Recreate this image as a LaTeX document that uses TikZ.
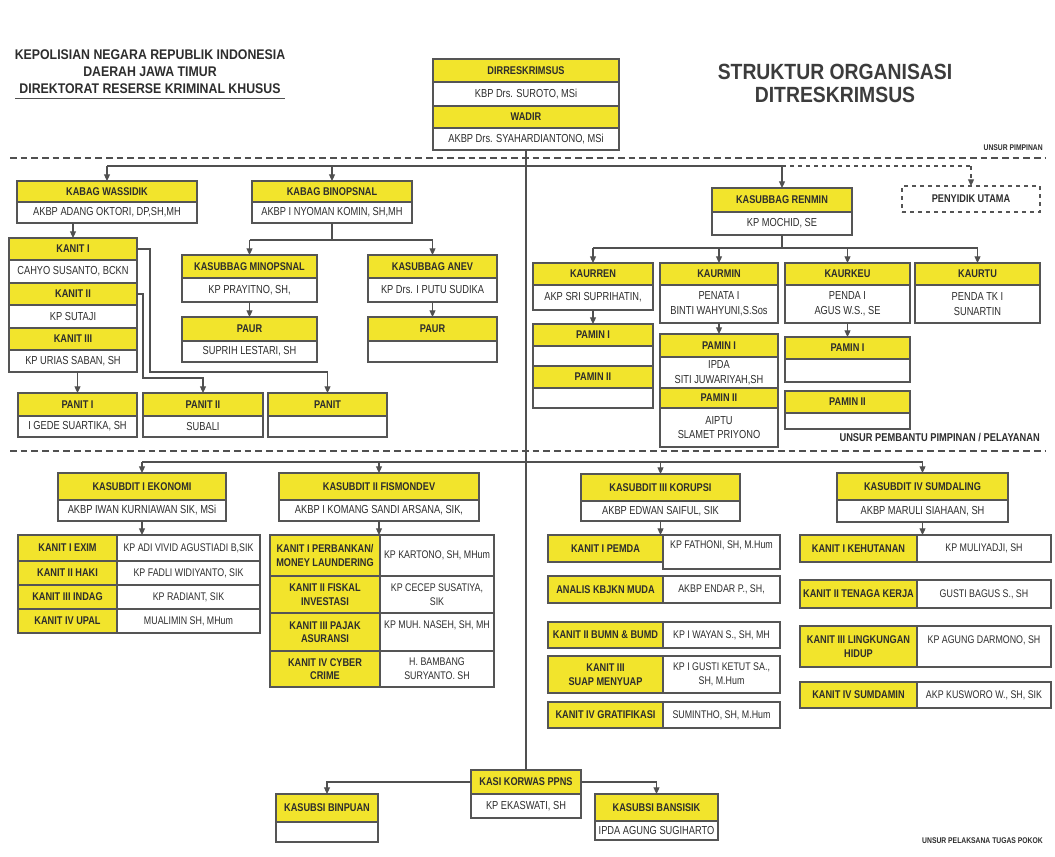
\documentclass[tikz,border=0pt]{standalone}
\usepackage{fontspec}
\usetikzlibrary{arrows.meta}
\newfontfamily\nar{Liberation Sans}[FakeStretch=0.82]
\newfontfamily\hdr{Liberation Sans}[FakeStretch=0.88]
\newfontfamily\nmf{Liberation Sans}[FakeStretch=0.8]
\definecolor{yel}{RGB}{242,228,44}
\definecolor{bord}{RGB}{85,85,85}
\definecolor{txt}{RGB}{45,45,45}
\definecolor{lnc}{RGB}{80,80,80}
\definecolor{ttl}{RGB}{60,60,60}
\newcommand\bx[7]{\node[#6, minimum width={((#4)-(#2))*0.75pt}, minimum height={((#5)-(#3))*0.75pt}] (#1) at ({((#2)+(#4))/2},{((#3)+(#5))/2}) {#7};}
\tikzset{
  cellbase/.style={draw=bord, line width=0.8pt, inner sep=0pt, outer sep=0pt, align=center, text=txt},
  yel/.style={cellbase, fill=yel, font=\nar\bfseries\fontsize{8.4}{10.2}\selectfont},
  wht/.style={cellbase, fill=white, font=\nmf\fontsize{8.7}{11}\selectfont},
  whtt/.style={cellbase, fill=white, font=\nmf\fontsize{8.3}{10.5}\selectfont},
  dsh/.style={cellbase, dashed, fill=white, font=\nar\bfseries\fontsize{8.4}{10}\selectfont},
  arr/.style={draw=lnc, line width=0.8pt, -{Triangle[length=5pt,width=4.5pt]}},
  ln/.style={draw=lnc, line width=0.8pt},
  sep/.style={draw=lnc, line width=0.8pt, dash pattern=on 5pt off 3pt},
  hd/.style={font=\hdr\bfseries\fontsize{10.5}{12}\selectfont, text=txt, inner sep=0pt},
  tt/.style={font=\hdr\bfseries\fontsize{16.5}{18}\selectfont, text=ttl, inner sep=0pt},
  unsurs/.style={anchor=east, inner sep=0pt, text=txt, font=\nar\bfseries\fontsize{6.2}{7}\selectfont},
  unsurb/.style={anchor=east, inner sep=0pt, text=txt, font=\nar\bfseries\fontsize{8.5}{9}\selectfont},
}
\begin{document}
\begin{tikzpicture}[x=0.75pt,y=-0.75pt]
\path[fill=white,use as bounding box] (0,0) rectangle (1055,856);

% header
\node[hd] (t1) at (150,55) {KEPOLISIAN NEGARA REPUBLIK INDONESIA};
\node[hd] (t2) at (150,72) {DAERAH JAWA TIMUR};
\node[hd] (t3) at (150,89) {DIREKTORAT RESERSE KRIMINAL KHUSUS};
\draw[ln] ([xshift=-3pt,yshift=-3pt]t3.south west) -- ([xshift=3pt,yshift=-3pt]t3.south east);
\node[tt] (tt1) at (835,72) {STRUKTUR ORGANISASI};
\node[tt] (tt2) at (835,95) {DITRESKRIMSUS};

% top box
\bx{dir}{433}{59}{619}{82}{yel}{DIRRESKRIMSUS}
\bx{dirn}{433}{82}{619}{106}{wht}{KBP Drs. SUROTO, MSi}
\bx{wad}{433}{106}{619}{128}{yel}{WADIR}
\bx{wadn}{433}{128}{619}{150}{wht}{AKBP Drs. SYAHARDIANTONO, MSi}

\node[unsurs] (u1) at (1043,148) {UNSUR PIMPINAN};
\coordinate (sl1) at (10,158);
\coordinate (sr1) at (1045,158);
\draw[sep] (sl1) -- (sr1);

% upper left
\bx{wass}{17}{181}{197}{202}{yel}{KABAG WASSIDIK}
\bx{wassn}{17}{202}{197}{223}{wht}{AKBP ADANG OKTORI, DP,SH,MH}
\bx{binop}{252}{181}{412}{202}{yel}{KABAG BINOPSNAL}
\bx{binopn}{252}{202}{412}{223}{wht}{AKBP I NYOMAN KOMIN, SH,MH}

\bx{k1}{9}{238}{137}{260}{yel}{KANIT I}
\bx{k1n}{9}{260}{137}{283}{wht}{CAHYO SUSANTO, BCKN}
\bx{k2}{9}{283}{137}{305}{yel}{KANIT II}
\bx{k2n}{9}{305}{137}{328}{wht}{KP SUTAJI}
\bx{k3}{9}{328}{137}{350}{yel}{KANIT III}
\bx{k3n}{9}{350}{137}{372}{wht}{KP URIAS SABAN, SH}

\bx{p1}{18}{393}{137}{416}{yel}{PANIT I}
\bx{p1n}{18}{416}{137}{437}{wht}{I GEDE SUARTIKA, SH}
\bx{p2}{143}{393}{263}{416}{yel}{PANIT II}
\bx{p2n}{143}{416}{263}{437}{wht}{SUBALI}
\bx{p3}{268}{393}{387}{416}{yel}{PANIT}
\bx{p3n}{268}{416}{387}{437}{wht}{}

\bx{minop}{182}{255}{317}{278}{yel}{KASUBBAG MINOPSNAL}
\bx{minopn}{182}{278}{317}{302}{wht}{KP PRAYITNO, SH,}
\bx{anev}{368}{255}{497}{278}{yel}{KASUBBAG ANEV}
\bx{anevn}{368}{278}{497}{302}{wht}{KP Drs. I PUTU SUDIKA}
\bx{paura}{182}{317}{317}{341}{yel}{PAUR}
\bx{pauran}{182}{341}{317}{362}{wht}{SUPRIH LESTARI, SH}
\bx{paurb}{368}{317}{497}{341}{yel}{PAUR}
\bx{paurbn}{368}{341}{497}{362}{wht}{}

% upper right
\bx{ren}{712}{188}{852}{212}{yel}{KASUBBAG RENMIN}
\bx{renn}{712}{212}{852}{235}{wht}{KP MOCHID, SE}
\bx{peny}{902}{186}{1040}{212}{dsh}{PENYIDIK UTAMA}

\bx{kren}{533}{263}{653}{285}{yel}{KAURREN}
\bx{krenn}{533}{285}{653}{310}{wht}{AKP SRI SUPRIHATIN,}
\bx{kmin}{660}{263}{778}{285}{yel}{KAURMIN}
\bx{kminn}{660}{285}{778}{323}{wht}{PENATA I\\BINTI WAHYUNI,S.Sos}
\bx{kkeu}{785}{263}{910}{285}{yel}{KAURKEU}
\bx{kkeun}{785}{285}{910}{323}{wht}{PENDA I\\AGUS W.S., SE}
\bx{ktu}{915}{263}{1040}{285}{yel}{KAURTU}
\bx{ktun}{915}{285}{1040}{323}{wht}{PENDA TK I\\SUNARTIN}

\bx{ra1}{533}{324}{653}{346}{yel}{PAMIN I}
\bx{ra1n}{533}{346}{653}{366}{wht}{}
\bx{ra2}{533}{366}{653}{388}{yel}{PAMIN II}
\bx{ra2n}{533}{388}{653}{408}{wht}{}
\bx{ma1}{660}{334}{778}{357}{yel}{PAMIN I}
\bx{ma1n}{660}{357}{778}{388}{wht}{IPDA\\SITI JUWARIYAH,SH}
\bx{ma2}{660}{388}{778}{408}{yel}{PAMIN II}
\bx{ma2n}{660}{408}{778}{447}{wht}{AIPTU\\SLAMET PRIYONO}
\bx{ka1}{785}{337}{910}{359}{yel}{PAMIN I}
\bx{ka1n}{785}{359}{910}{382}{wht}{}
\bx{ka2}{785}{391}{910}{413}{yel}{PAMIN II}
\bx{ka2n}{785}{413}{910}{429}{wht}{}

\node[unsurb] (u2) at (1040,438) {UNSUR PEMBANTU PIMPINAN / PELAYANAN};
\coordinate (sl2) at (10,451);
\coordinate (sr2) at (1045,451);
\draw[sep] (sl2) -- (sr2);

% lower: subdit I
\bx{eko}{58}{473}{226}{500}{yel}{KASUBDIT I EKONOMI}
\bx{ekon}{58}{500}{226}{521}{wht}{AKBP IWAN KURNIAWAN SIK, MSi}
\bx{e1}{18}{535}{117}{561}{yel}{KANIT I EXIM}
\bx{e1n}{117}{535}{260}{561}{whtt}{KP ADI VIVID AGUSTIADI B,SIK}
\bx{e2}{18}{561}{117}{585}{yel}{KANIT II HAKI}
\bx{e2n}{117}{561}{260}{585}{whtt}{KP FADLI WIDIYANTO, SIK}
\bx{e3}{18}{585}{117}{609}{yel}{KANIT III INDAG}
\bx{e3n}{117}{585}{260}{609}{whtt}{KP RADIANT, SIK}
\bx{e4}{18}{609}{117}{633}{yel}{KANIT IV UPAL}
\bx{e4n}{117}{609}{260}{633}{whtt}{MUALIMIN SH, MHum}

% subdit II
\bx{fis}{279}{473}{479}{500}{yel}{KASUBDIT II FISMONDEV}
\bx{fisn}{279}{500}{479}{521}{wht}{AKBP I KOMANG SANDI ARSANA, SIK,}
\bx{f1}{270}{535}{380}{576}{yel}{KANIT I PERBANKAN/\\MONEY LAUNDERING}
\bx{f1n}{380}{535}{494}{576}{whtt}{KP KARTONO, SH, MHum}
\bx{f2}{270}{576}{380}{613}{yel}{KANIT II FISKAL\\INVESTASI}
\bx{f2n}{380}{576}{494}{613}{whtt}{KP CECEP SUSATIYA,\\SIK}
\bx{f3}{270}{613}{380}{651}{yel}{KANIT III PAJAK\\ASURANSI}
\bx{f3n}{380}{613}{494}{651}{whtt}{KP MUH. NASEH, SH, MH\\\mbox{}}
\bx{f4}{270}{651}{380}{687}{yel}{KANIT IV CYBER\\CRIME}
\bx{f4n}{380}{651}{494}{687}{whtt}{H. BAMBANG\\SURYANTO. SH}

% subdit III
\bx{kor}{581}{474}{740}{501}{yel}{KASUBDIT III KORUPSI}
\bx{korn}{581}{501}{740}{521}{wht}{AKBP EDWAN SAIFUL, SIK}
\bx{c1}{548}{535}{663}{562}{yel}{KANIT I PEMDA}
\bx{c1n}{663}{535}{780}{569}{whtt}{KP FATHONI, SH, M.Hum\\\mbox{}}
\bx{c2}{548}{576}{663}{603}{yel}{ANALIS KBJKN MUDA}
\bx{c2n}{663}{576}{780}{603}{whtt}{AKBP ENDAR P., SH,}
\bx{c3}{548}{622}{663}{648}{yel}{KANIT II BUMN \& BUMD}
\bx{c3n}{663}{622}{780}{648}{whtt}{KP I WAYAN S., SH, MH}
\bx{c4}{548}{656}{663}{693}{yel}{KANIT III\\SUAP MENYUAP}
\bx{c4n}{663}{656}{780}{693}{whtt}{KP I GUSTI KETUT SA.,\\SH, M.Hum}
\bx{c5}{548}{702}{663}{728}{yel}{KANIT IV GRATIFIKASI}
\bx{c5n}{663}{702}{780}{728}{whtt}{SUMINTHO, SH, M.Hum}

% subdit IV
\bx{sum}{837}{473}{1008}{500}{yel}{KASUBDIT IV SUMDALING}
\bx{sumn}{837}{500}{1008}{522}{wht}{AKBP MARULI SIAHAAN, SH}
\bx{s1}{800}{535}{917}{562}{yel}{KANIT I KEHUTANAN}
\bx{s1n}{917}{535}{1051}{562}{whtt}{KP MULIYADJI, SH}
\bx{s2}{800}{580}{917}{608}{yel}{KANIT II TENAGA KERJA}
\bx{s2n}{917}{580}{1051}{608}{whtt}{GUSTI BAGUS S., SH}
\bx{s3}{800}{626}{917}{667}{yel}{KANIT III LINGKUNGAN\\HIDUP}
\bx{s3n}{917}{626}{1051}{667}{whtt}{KP AGUNG DARMONO, SH\\\mbox{}}
\bx{s4}{800}{682}{917}{708}{yel}{KANIT IV SUMDAMIN}
\bx{s4n}{917}{682}{1051}{708}{whtt}{AKP KUSWORO W., SH, SIK}

% bottom
\bx{kasi}{471}{770}{581}{794}{yel}{KASI KORWAS PPNS}
\bx{kasin}{471}{794}{581}{818}{wht}{KP EKASWATI, SH}
\bx{bin}{276}{794}{378}{822}{yel}{KASUBSI BINPUAN}
\bx{binn}{276}{822}{378}{842}{wht}{}
\bx{ban}{595}{794}{718}{821}{yel}{KASUBSI BANSISIK}
\bx{bann}{595}{821}{718}{840}{wht}{IPDA AGUNG SUGIHARTO}
\node[unsurs] (u3) at (1043,841) {UNSUR PELAKSANA TUGAS POKOK};

% connectors
\coordinate (h1) at (0,166);
\coordinate (h2) at (0,462);
\draw[ln] (wadn.south) -- (kasi.north);
\draw[ln] (wass.north |- h1) -- (ren.north |- h1);
\draw[arr] (wass.north |- h1) -- (wass.north);
\draw[arr] (binop.north |- h1) -- (binop.north);
\draw[arr] (ren.north |- h1) -- (ren.north);
\draw[ln, dashed] (ren.north |- h1) -- (peny.north |- h1);
\draw[arr, dashed] (peny.north |- h1) -- (peny.north);

\draw[arr] (k1.north |- wassn.south) -- (k1.north);
\coordinate (ka) at (150,372);
\coordinate (kb) at (143,378);
\draw[arr] (k1.east) -| (ka) -- (ka -| p3.north) -- (p3.north);
\draw[arr] (k2.east) -| (kb) -- (kb -| p2.north) -- (p2.north);
\draw[arr] (p1.north |- k3n.south) -- (p1.north);

\coordinate (hb) at (0,240);
\draw[ln] (binopn.south) -- (binopn.south |- hb);
\draw[ln] (minop.north |- hb) -- (anev.north |- hb);
\draw[arr] (minop.north |- hb) -- (minop.north);
\draw[arr] (anev.north |- hb) -- (anev.north);
\draw[arr] (minopn.south) -- (paura.north);
\draw[arr] (anevn.south) -- (paurb.north);

\coordinate (hr) at (0,248);
\draw[ln] (renn.south) -- (renn.south |- hr);
\draw[ln] (kren.north |- hr) -- (ktu.north |- hr);
\draw[arr] (kren.north |- hr) -- (kren.north);
\draw[arr] (kmin.north |- hr) -- (kmin.north);
\draw[arr] (kkeu.north |- hr) -- (kkeu.north);
\draw[arr] (ktu.north |- hr) -- (ktu.north);
\draw[arr] (krenn.south) -- (ra1.north);
\draw[arr] (kminn.south) -- (ma1.north);
\draw[arr] (kkeun.south) -- (ka1.north);

\draw[ln] (eko.north |- h2) -- (sum.north |- h2);
\draw[arr] (eko.north |- h2) -- (eko.north);
\draw[arr] (fis.north |- h2) -- (fis.north);
\draw[arr] (kor.north |- h2) -- (kor.north);
\draw[arr] (sum.north |- h2) -- (sum.north);
\draw[arr] (ekon.south) -- (ekon.south |- e1.north);
\draw[arr] (fisn.south) -- (fisn.south |- f1.north);
\draw[arr] (korn.south) -- (korn.south |- c1.north);
\draw[arr] (sumn.south) -- (sumn.south |- s1.north);

\draw[arr] (kasi.west) -| (bin.north);
\draw[arr] (kasi.east) -| (ban.north);
\end{tikzpicture}
\end{document}
